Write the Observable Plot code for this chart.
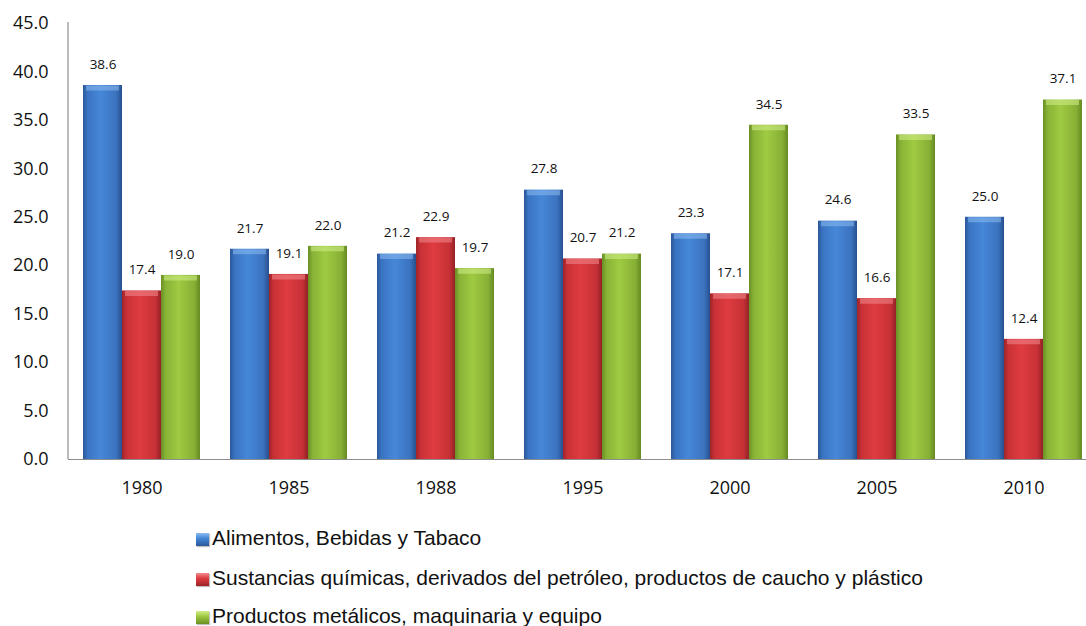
<!DOCTYPE html>
<html>
<head>
<meta charset="utf-8">
<script src="https://cdn.jsdelivr.net/npm/d3@7"></script>
<script src="https://cdn.jsdelivr.net/npm/@observablehq/plot@0.6"></script>
<style>
  html, body { margin: 0; padding: 0; background: #fff; }
  #wrap { width: 1086px; height: 626px; overflow: hidden; position: relative; }
  #legend { position: absolute; left: 196px; top: 0; font-family: "Liberation Sans", Arial, sans-serif; font-size: 21px; color: #111; }
  .row { position: absolute; left: 0; white-space: nowrap; display: flex; align-items: center; }
  .sw { width: 13px; height: 13px; margin-right: 3px; margin-top: 3px; box-shadow: 1px 1px 1px rgba(0,0,0,0.25); }
</style>
</head>
<body>
<div id="wrap">
  <div id="chart"></div>
  <div id="legend"></div>
</div>
<script>
// Share of manufacturing output by industry group, selected years
const years = ["1980", "1985", "1988", "1995", "2000", "2005", "2010"];
const seriesNames = [
  "Alimentos, Bebidas y Tabaco",
  "Sustancias químicas, derivados del petróleo, productos de caucho y plástico",
  "Productos metálicos, maquinaria y equipo"
];
const alimentos  = [38.6, 21.7, 21.2, 27.8, 23.3, 24.6, 25.0];
const sustancias = [17.4, 19.1, 22.9, 20.7, 17.1, 16.6, 12.4];
const metalicos  = [19.0, 22.0, 19.7, 21.2, 34.5, 33.5, 37.1];
const yTicks = [0, 5, 10, 15, 20, 25, 30, 35, 40, 45];

// Cylinder-like shading for each series: dark edges, lighter centre
const palettes = [
  {id: "g-blue",  stops: ["#2b5899", "#3a74c2", "#4687d8", "#3b73bf", "#28508f"], top: "#8cbcf0"},
  {id: "g-red",   stops: ["#9e2428", "#c93136", "#de3c41", "#c73136", "#942226"], top: "#f28b8e"},
  {id: "g-green", stops: ["#6a8f25", "#88b336", "#9fca42", "#87b035", "#668a23"], top: "#d2ef8a"}
];
const stopOffsets = [0, 0.12, 0.45, 0.85, 1];

const columns = [alimentos, sustancias, metalicos];
const rows = [];
years.forEach((year, i) => {
  seriesNames.forEach((s, j) => rows.push({year, series: s, value: columns[j][i]}));
});

const defs = () => {
  const d = d3.create("svg:defs");
  palettes.forEach(p => {
    const g = d.append("linearGradient").attr("id", p.id)
      .attr("x1", "0").attr("x2", "1").attr("y1", "0").attr("y2", "0");
    p.stops.forEach((c, k) => g.append("stop").attr("offset", stopOffsets[k]).attr("stop-color", c));
  });
  return d.node();
};

const barMarks = [];
seriesNames.forEach((s, j) => {
  const data = rows.filter(r => r.series === s);
  barMarks.push(
    Plot.barY(data, {
      fx: "year", x: "series", y: "value",
      fill: `url(#${palettes[j].id})`,
      style: "filter: drop-shadow(1px 2px 2px rgba(0,0,0,0.3))"
    }),
    // light bevel along the top of each bar
    Plot.tickY(data, {
      fx: "year", x: "series", y: "value",
      stroke: palettes[j].top, strokeWidth: 5, strokeOpacity: 0.55,
      dy: 2.5, insetLeft: 3, insetRight: 3
    })
  );
});

const chart = Plot.plot({
  width: 1097,
  height: 506,
  marginLeft: 68,
  marginRight: 0,
  marginTop: 23,
  marginBottom: 47,
  style: {fontFamily: "'Open Sans', sans-serif", maxWidth: "none", background: "#fff", color: "#000"},
  fx: {domain: years, padding: 0, label: null},
  x: {domain: seriesNames, paddingInner: 0, paddingOuter: 0.36, axis: null},
  y: {domain: [0, 45], label: null},
  marks: [
    defs,
    Plot.axisY({ticks: yTicks, tickFormat: d => d.toFixed(1), tickSize: 0, tickPadding: 20, fontSize: 18, fill: "#111", label: null}),
    Plot.axisFx({anchor: "bottom", tickSize: 0, tickPadding: 22, fontSize: 18, fill: "#111", label: null}),
    ...barMarks,
    Plot.ruleY([0], {stroke: "#8c8c8c", strokeWidth: 1.2}),
    Plot.text(rows, {
      fx: "year", x: "series", y: "value",
      text: d => d.value.toFixed(1),
      dy: -21, fontSize: 13.5, fill: "#111"
    })
  ]
});

// vertical value axis line along the left edge of the plot area
{
  const y = chart.scale("y");
  const fx = chart.scale("fx");
  const x0 = fx.range[0];
  d3.select(chart).append("line")
    .attr("x1", x0).attr("x2", x0)
    .attr("y1", y.apply(45) - 1).attr("y2", y.apply(0))
    .attr("stroke", "#8c8c8c").attr("stroke-width", 1.2);
}

document.getElementById("chart").appendChild(chart);

// legend below the chart
const legend = document.getElementById("legend");
const rowTops = [526, 566, 604];
seriesNames.forEach((s, j) => {
  const p = palettes[j];
  const row = document.createElement("div");
  row.className = "row";
  row.style.top = rowTops[j] + "px";
  const sw = document.createElement("span");
  sw.className = "sw";
  sw.style.background = `linear-gradient(to bottom, ${p.top}, ${p.stops[2]} 40%, ${p.stops[0]})`;
  const label = document.createElement("span");
  label.textContent = s;
  row.appendChild(sw);
  row.appendChild(label);
  legend.appendChild(row);
});
</script>
</body>
</html>
